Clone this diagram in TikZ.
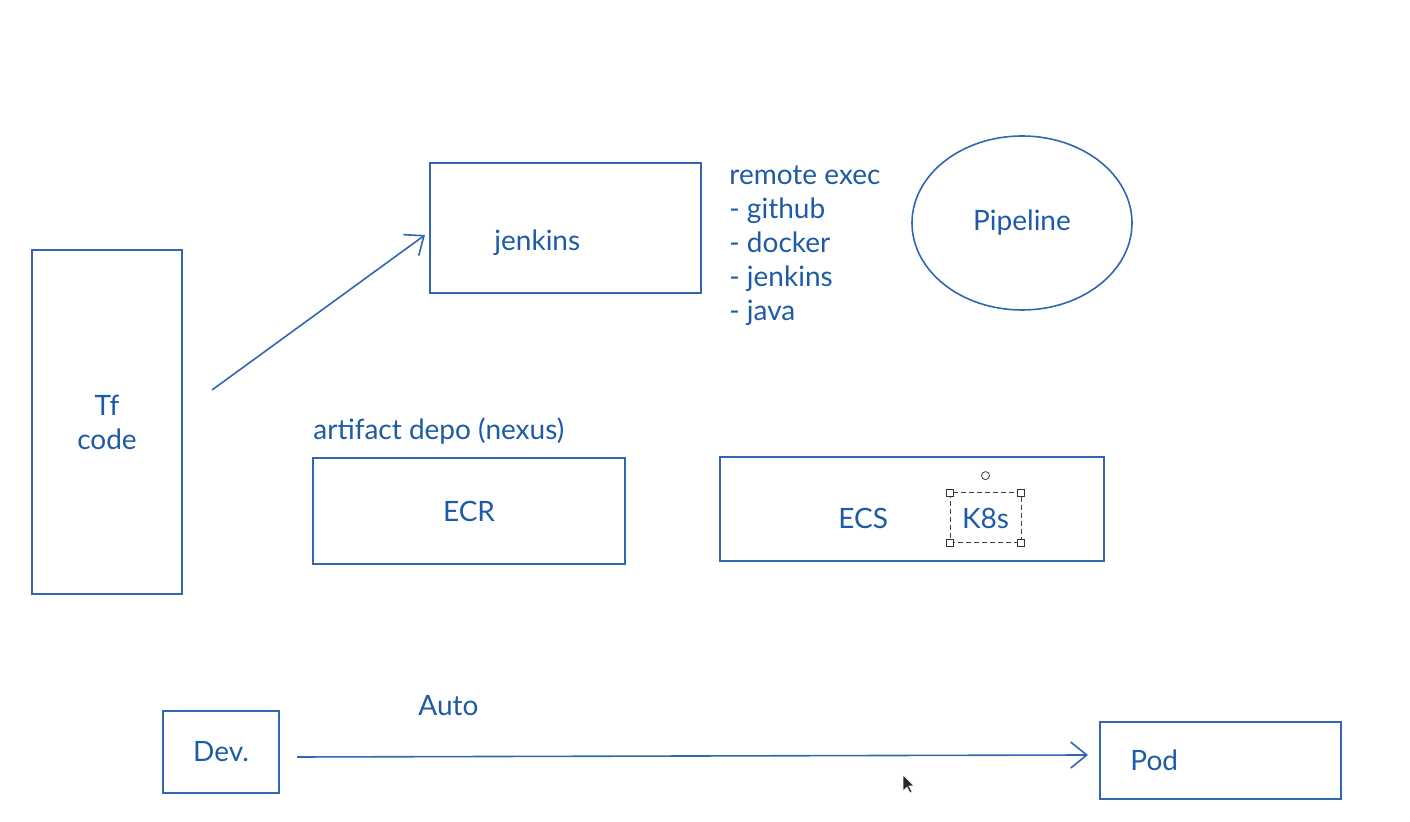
\documentclass[tikz,border=0pt]{standalone}
\usepackage{fontspec}
\setmainfont{Lato}
\usepackage{xcolor}
\usepackage{tikz}
\usetikzlibrary{shapes, arrows.meta, positioning, calc, shapes.geometric}
\definecolor{sketch}{HTML}{2F67B0}
\definecolor{ink}{HTML}{1D5BA6}

\begin{document}
\begin{tikzpicture}[
  box/.style={rectangle, draw=sketch, line width=0.8pt, inner sep=0pt, outer sep=0pt, font=\fontsize{14}{17}\selectfont, text=ink, align=center},
  txt/.style={inner sep=0pt, font=\fontsize{14}{17}\selectfont, text=ink, align=left},
  arr/.style={-{Straight Barb[length=8pt,width=13pt]}, draw=sketch, line width=0.8pt},
  handle/.style={rectangle, draw=black!80, fill=white, line width=0.4pt, minimum size=3.5pt, inner sep=0pt}
]
\useasboundingbox (0,0) rectangle (705pt,-411pt);

\node[box, minimum width=75pt, minimum height=172pt] (tf) at (53.5pt,-211pt) {Tf\\code};
\node[box, minimum width=135.5pt, minimum height=65pt, right=124pt of tf, yshift=97pt] (jenkins) {};
\node[txt, right=32pt of jenkins.west, yshift=-7.5pt] (jenkinslbl) {jenkins};
\node[txt, right=14pt of jenkins.north east, anchor=north west, yshift=-1pt] (remote) {remote exec\\- github\\- docker\\- jenkins\\- java};
\node[ellipse, draw=sketch, line width=0.8pt, outer sep=0pt, minimum width=110pt, minimum height=87pt, inner sep=0pt, text=ink, font=\fontsize{14}{17}\selectfont, right=105.5pt of jenkins, yshift=2.5pt] (pipeline) {Pipeline};

\node[box, minimum width=156pt, minimum height=53pt, right=65.5pt of tf, yshift=-44.5pt] (ecr) {ECR};
\node[txt, anchor=base west] (depo) at ([yshift=9pt]ecr.north west) {artifact depo (nexus)};
\node[box, minimum width=192pt, minimum height=52pt, right=47.5pt of ecr, yshift=1pt] (ecs) {};
\node[txt, right=59pt of ecs.west, yshift=-4.5pt] (ecslbl) {ECS};
\node[box, draw=black!75, line width=0.5pt, dash pattern=on 2.5pt off 1.5pt, minimum width=35.5pt, minimum height=25pt, left=41.5pt of ecs.east, yshift=-4.5pt] (k8s) {K8s};
\foreach \c [count=\i] in {north west, north east, south west, south east}
  \node[handle] (h\i) at (k8s.\c) {};
\node[circle, draw=black!75, line width=0.4pt, minimum size=4pt, inner sep=0pt, above=6.5pt of k8s.north] (rot) {};

\node[box, minimum width=58pt, minimum height=41pt, below=58.5pt of tf, xshift=57pt] (dev) {Dev.};
\node[box, minimum width=120.5pt, minimum height=38.5pt, right=410.5pt of dev, yshift=-4.25pt] (pod) {};
\node[txt, right=15pt of pod.west] (podlbl) {Pod};
\node[txt, anchor=base west] (auto) at ([shift={(69.5pt,-2.5pt)}]dev.north east) {Auto};

\draw[arr] ([shift={(15pt,16pt)}]tf.east) -- ([shift={(-2.5pt,-3.5pt)}]jenkins.west);
\draw[arr] ([shift={(9pt,-2.5pt)}]dev.east) -- ([shift={(-6pt,2.75pt)}]pod.west);

\begin{scope}[shift={(451.5pt,-387.5pt)}]
\path[fill=black!85, draw=white, line width=0.3pt] (0,0) -- (0,-8pt) -- (2pt,-6pt) -- (3.5pt,-9pt) -- (4.5pt,-8.5pt) -- (3pt,-5.5pt) -- (5.5pt,-5.5pt) -- cycle;
\end{scope}
\end{tikzpicture}
\end{document}
